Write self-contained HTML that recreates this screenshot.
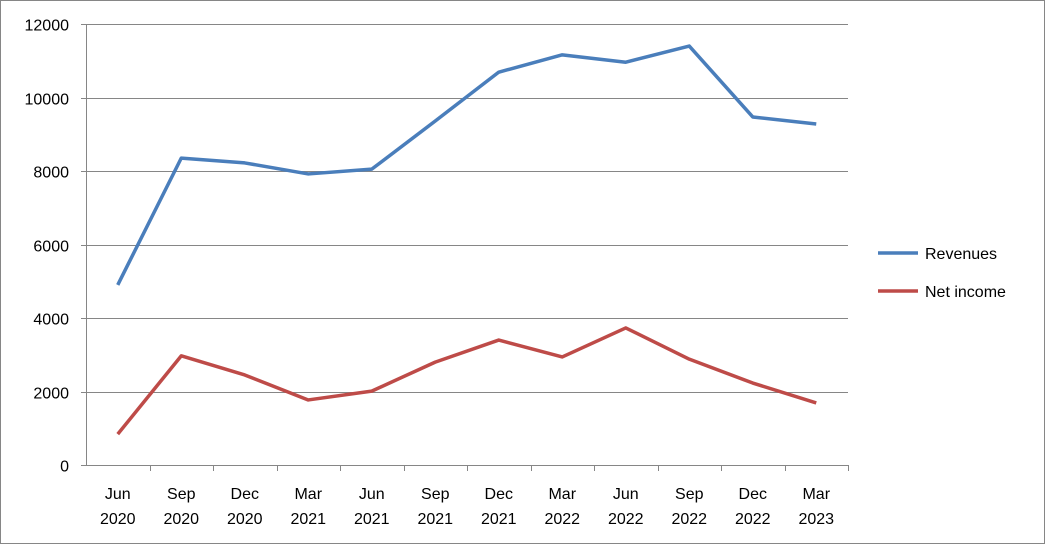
<!DOCTYPE html>
<html><head><meta charset="utf-8"><style>
html,body{margin:0;padding:0;background:#fff;}
svg{display:block;font-family:"Liberation Sans",Arial,sans-serif;}
</style></head><body>
<svg id="chart" width="1045" height="544">
<rect x="0.5" y="0.5" width="1044" height="543" fill="#fff" stroke="#868686"/>
<g id="grid"></g><g id="axes"></g><g id="series"></g><g id="legend"></g>
</svg>
<script>
const categories = [["Jun","2020"],["Sep","2020"],["Dec","2020"],["Mar","2021"],["Jun","2021"],["Sep","2021"],["Dec","2021"],["Mar","2022"],["Jun","2022"],["Sep","2022"],["Dec","2022"],["Mar","2023"]];
const revenues = [4900,8350,8220,7920,8050,9360,10690,11160,10960,11400,9470,9280];
const netIncome = [840,2970,2450,1770,2010,2800,3400,2940,3730,2880,2230,1690];
const yTicks = [0,2000,4000,6000,8000,10000,12000];
const seriesNames = ["Revenues","Net income"];

const NS="http://www.w3.org/2000/svg";
const L=86,R=848,T=24,B=465,YMAX=12000;
const band=(R-L)/categories.length;
const xs=i=>L+band*(i+0.5);
const ys=v=>B-(v/YMAX)*(B-T);
function mk(tag,attrs,parent,text){const e=document.createElementNS(NS,tag);for(const k in attrs)e.setAttribute(k,attrs[k]);if(text!==undefined)e.textContent=text;parent.appendChild(e);return e;}
const grid=document.getElementById('grid'),axes=document.getElementById('axes'),ser=document.getElementById('series'),leg=document.getElementById('legend');
yTicks.forEach(t=>{
  const y=Math.round(ys(t))+0.5;
  if(t>0){const g=mk('line',{x1:L,x2:R,y1:y,y2:y,stroke:'#868686','stroke-width':1},grid);
  
  }
  const tk=mk('line',{x1:L-5,x2:L,y1:y,y2:y,stroke:'#868686'},axes);
  
  
  const lb=mk('text',{x:L-17,y:y+6,'text-anchor':'end','font-size':16,fill:'#000'},axes,String(t));
  
  
});
const ya=mk('line',{x1:L+0.5,x2:L+0.5,y1:T,y2:B,stroke:'#868686'},axes);


const xa=mk('line',{x1:L,x2:R,y1:B+0.5,y2:B+0.5,stroke:'#868686'},axes);


categories.forEach((c,i)=>{
  const x=Math.round(L+band*(i+1))+0.5;
  const tk=mk('line',{x1:x,x2:x,y1:B,y2:B+6,stroke:'#868686'},axes);
  
  
  const lb=mk('text',{x:xs(i),y:499,'text-anchor':'middle','font-size':16,fill:'#000'},axes);
  
  
  mk('tspan',{x:xs(i),dy:0},lb,c[0]);
  mk('tspan',{x:xs(i),dy:25},lb,c[1]);
});
function line(data,color,name){
  const p=mk('polyline',{points:data.map((v,i)=>xs(i)+','+ys(v)).join(' '),fill:'none',stroke:color,'stroke-width':3.5,'stroke-linejoin':'round'},ser);
  
  
}
line(revenues,'#4a7ebb','revenues-line');
line(netIncome,'#be4b48','net-income-line');
[['#4a7ebb',253,'legend-revenues'],['#be4b48',291,'legend-net-income']].forEach((d,i)=>{
  const g=mk('g',{},leg);
  
  
  mk('line',{x1:878,x2:918,y1:d[1],y2:d[1],stroke:d[0],'stroke-width':3.5},g);
  mk('text',{x:925,y:d[1]+6,'font-size':16,fill:'#000'},g,seriesNames[i]);
});
</script>
</body></html>
